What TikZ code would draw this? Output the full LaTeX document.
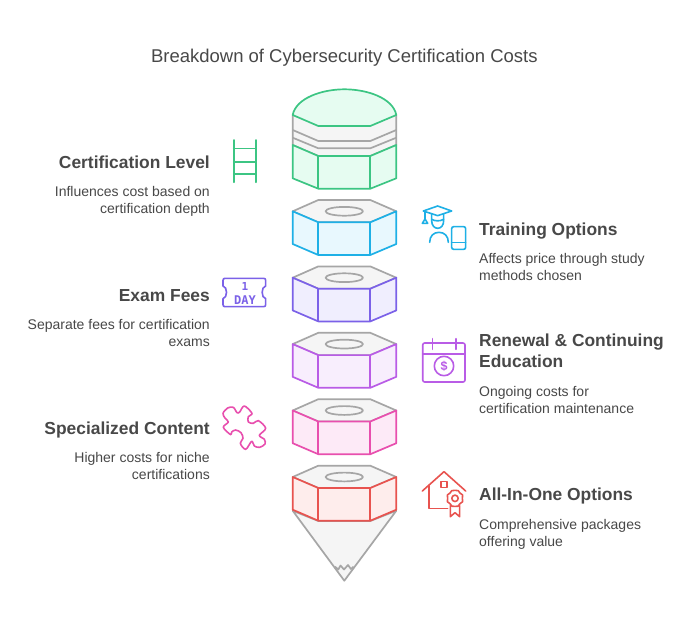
\documentclass[tikz,border=0pt]{standalone}
\usepackage{fontspec}
\setmainfont{Liberation Sans}
\newfontfamily\iconmono{DejaVu Sans Mono}
\definecolor{txt}{HTML}{484848}
\definecolor{gr}{HTML}{A6A6A6}
\definecolor{grf}{HTML}{F5F5F5}
\definecolor{cgreen}{HTML}{3CC583}\definecolor{fgreen}{HTML}{E6FCF1}
\definecolor{cblue}{HTML}{1EB0E6}\definecolor{fblue}{HTML}{E8F8FE}
\definecolor{cpurple}{HTML}{7B61E8}\definecolor{fpurple}{HTML}{F0EEFE}
\definecolor{cviolet}{HTML}{B95CE6}\definecolor{fviolet}{HTML}{F8EEFD}
\definecolor{cpink}{HTML}{E84FAE}\definecolor{fpink}{HTML}{FDEAF7}
\definecolor{cred}{HTML}{E8534F}\definecolor{fred}{HTML}{FEEDEC}
\tikzset{
  ttl/.style={text=txt,inner sep=0pt,font=\fontsize{18.5}{20}\selectfont},
  head/.style={text=txt,inner sep=0pt,font=\fontsize{17.4}{20}\selectfont\bfseries},
  body/.style={text=txt,inner sep=0pt,font=\fontsize{14}{16}\selectfont},
  gline/.style={draw=gr,line width=1.7pt,line join=round},
  cline/.style={line width=1.7pt,line join=round},
  icon/.style={line width=1.6pt,line join=round,line cap=round},
}
\newcommand{\nutshape}[3]{%
  \begin{scope}[yshift=-#1pt]
  \path[fill=grf,gline] (292.7,11.3)--(318.3,0)--(370.3,0)--(396.3,11.3)--(370.3,22.3)--(318.3,22.3)--cycle;
  \draw[gline] (344.3,11.3) ellipse (18.7pt and 4.4pt);
  \path[fill=#3,draw=#2,cline] (292.7,11.3)--(318.3,22.3)--(370.3,22.3)--(396.3,11.3)--(396.3,44)--(370.3,55)--(318.3,55)--(292.7,44)--cycle;
  \draw[#2,cline] (318.3,22.3)--(318.3,55) (370.3,22.3)--(370.3,55);
  \end{scope}}
\begin{document}
\begin{tikzpicture}[x=1pt,y=-1pt]
\useasboundingbox (0,0) rectangle (700,626);
\fill[white] (0,0) rectangle (700,626);
\node[ttl,anchor=base] (title) at (344.3,62.5) {Breakdown of Cybersecurity Certification Costs};
% cap
\path[fill=grf,draw=gr,line width=1.7pt,line join=round] (292.7,115)--(292.7,145)--(318.3,156)--(370.3,156)--(396.3,145)--(396.3,115)--cycle;
\draw[gline] (292.7,130)--(318.3,141)--(370.3,141)--(396.3,130);
\draw[gline] (292.7,137.7)--(318.3,148.3)--(370.3,148.3)--(396.3,137.7);
\path[fill=fgreen,draw=cgreen,cline] (292.7,115) .. controls (296,98) and (322,89.3) .. (344.5,89.3) .. controls (367,89.3) and (393,98) .. (396.3,115) -- (370.3,126) -- (318.3,126) -- cycle;
\path[fill=fgreen,draw=cgreen,cline] (292.7,145)--(318.3,156)--(370.3,156)--(396.3,145)--(396.3,178.3)--(370.3,188.7)--(318.3,188.7)--(292.7,178.3)--cycle;
\draw[cgreen,cline] (318.3,156)--(318.3,188.7) (370.3,156)--(370.3,188.7);
% nuts
\nutshape{200}{cblue}{fblue}
\nutshape{266.4}{cpurple}{fpurple}
\nutshape{332.8}{cviolet}{fviolet}
\nutshape{399.2}{cpink}{fpink}
% tip
\path[fill=grf,gline] (292.7,510.7)--(318.3,521)--(370.3,521)--(396.3,510.7)--(344.3,580.7)--cycle;
\draw[gline] (335,566.7)--(338.3,569.5)--(340.5,565.5)--(344,569.5)--(348,565)--(351,569)--(353.5,566.7);
\nutshape{465.7}{cred}{fred}
% texts left
\node[head,anchor=base east] (h1) at (210,168) {Certification Level};
\node[body,anchor=base east] (b1a) at (210,196) {Influences cost based on};
\node[body,anchor=base east] (b1b) at (210,213) {certification depth};
\node[head,anchor=base east] (h3) at (210,301) {Exam Fees};
\node[body,anchor=base east] (b3a) at (210,329.5) {Separate fees for certification};
\node[body,anchor=base east] (b3b) at (210,346) {exams};
\node[head,anchor=base east] (h5) at (210,434) {Specialized Content};
\node[body,anchor=base east] (b5a) at (210,462) {Higher costs for niche};
\node[body,anchor=base east] (b5b) at (210,479) {certifications};
% texts right
\node[head,anchor=base west] (h2) at (479,235) {Training Options};
\node[body,anchor=base west] (b2a) at (479,263) {Affects price through study};
\node[body,anchor=base west] (b2b) at (479,280) {methods chosen};
\node[head,anchor=base west] (h4a) at (479,346) {Renewal \& Continuing};
\node[head,anchor=base west] (h4b) at (479,367) {Education};
\node[body,anchor=base west] (b4a) at (479,396) {Ongoing costs for};
\node[body,anchor=base west] (b4b) at (479,413) {certification maintenance};
\node[head,anchor=base west] (h6) at (479,500) {All-In-One Options};
\node[body,anchor=base west] (b6a) at (479,529) {Comprehensive packages};
\node[body,anchor=base west] (b6b) at (479,546) {offering value};
% ladder
\draw[cgreen,icon] (233.7,140)--(233.7,182.3) (255.7,140)--(255.7,182.3)
  (233.7,148.3)--(255.7,148.3) (233.7,161.7)--(255.7,161.7) (233.7,174)--(255.7,174);
% training
\begin{scope}[shift={(415,200)},x=0.3333pt,y=-0.3333pt]
\draw[cblue,icon] (68,18)--(110,33)--(68,47)--(25,33)--cycle;
\draw[cblue,icon] (30,35)--(30,57) (30,57)--(22,70)--(38,70)--cycle;
\draw[cblue,icon] (50,42)--(50,62) .. controls (50,76) and (58,85) .. (68,85) .. controls (78,85) and (86,76) .. (86,62)--(86,42);
\draw[cblue,icon] (50,58) .. controls (60,64) and (76,64) .. (86,58);
\draw[cblue,icon] (44,127) .. controls (44,108) and (56,97) .. (72,97) .. controls (88,97) and (100,108) .. (100,127);
\draw[cblue,icon,rounded corners=2pt] (110,80) rectangle (152,148);
\draw[cblue,icon] (110,128)--(152,128);
\end{scope}
% ticket
\begin{scope}[shift={(215,270)},x=0.3333pt,y=-0.3333pt]
\draw[cpurple,icon] (30,25)--(146,25) .. controls (150,25) and (152,27) .. (152,31)--(152,48) .. controls (138,50) and (138,84) .. (152,86)--(152,104) .. controls (152,108) and (150,110) .. (146,110)--(30,110) .. controls (26,110) and (24,108) .. (24,104)--(24,86) .. controls (38,84) and (38,50) .. (24,48)--(24,31) .. controls (24,27) and (26,25) .. (30,25)--cycle;
\node[inner sep=0pt,text=cpurple,font=\iconmono\fontsize{11}{11}\selectfont\bfseries] (t1) at (90,50) {1};
\node[inner sep=0pt,text=cpurple,font=\iconmono\fontsize{12}{12}\selectfont\bfseries] (t2) at (90,90) {DAY};
\end{scope}
% calendar
\draw[cviolet,icon,rounded corners=2pt] (422.7,343) rectangle (465,382);
\draw[cviolet,icon] (422.7,353.7)--(465,353.7) (432.3,338.7)--(432.3,349.3) (455.7,338.7)--(455.7,349.3);
\draw[cviolet,icon] (444,366) circle (9.7pt);
\node[inner sep=0pt,text=cviolet,font=\fontsize{12.5}{13}\selectfont\bfseries] (dollar) at (444,366) {\$};
% puzzle
\begin{scope}[shift={(215,400)},x=0.3333pt,y=-0.3333pt]
\draw[cpink,icon] plot[smooth cycle,tension=0.55] coordinates {
 (24,40) (38,24) (55,22) (66,38) (74,36) (88,18) (111,40) (100,50) (100,66) (115,70) (130,62)
 (152,85) (133,106) (148,118) (150,132) (134,142) (118,138) (110,124) (92,148) (76,130)
 (84,115) (78,98) (62,90) (50,96) (47,104) (25,82) (40,66) (30,54)};
\end{scope}
% house
\begin{scope}[shift={(415,465)},x=0.3333pt,y=-0.3333pt]
\draw[cred,icon] (22,78)--(87,20)--(152,78);
\draw[cred,icon] (42,62)--(42,130)--(98,130);
\draw[cred,icon] (78,50) rectangle (96,68);
\draw[cred,icon] (120,76) .. controls (128,72) and (133,80) .. (135,84) .. controls (143,86) and (146,93) .. (142,100) .. controls (146,107) and (143,114) .. (135,116) .. controls (133,122) and (126,128) .. (120,124) .. controls (114,128) and (107,122) .. (105,116) .. controls (97,114) and (94,107) .. (98,100) .. controls (94,93) and (97,86) .. (105,84) .. controls (107,80) and (112,72) .. (120,76) -- cycle;
\draw[cred,icon] (120,100) circle (3.2pt);
\draw[cred,icon] (106,122)--(106,155)--(120,143)--(134,155)--(134,122);
\end{scope}
\end{tikzpicture}
\end{document}
